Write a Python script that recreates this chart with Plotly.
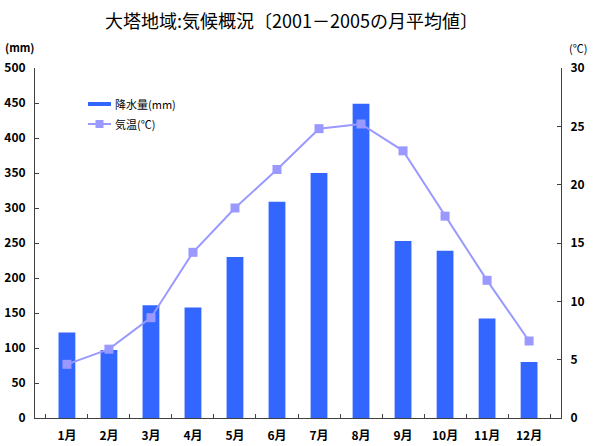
import plotly.graph_objects as go

months = ["1月", "2月", "3月", "4月", "5月", "6月", "7月", "8月", "9月", "10月", "11月", "12月"]
precip_mm = [122, 97, 161, 158, 230, 309, 350, 449, 253, 239, 142, 80]
temp_c = [4.6, 5.9, 8.6, 14.2, 18.0, 21.3, 24.8, 25.2, 22.9, 17.3, 11.8, 6.6]
left_ticks = [0, 50, 100, 150, 200, 250, 300, 350, 400, 450, 500]
right_ticks = [0, 5, 10, 15, 20, 25, 30]

BAR = "#3366FF"
LINE = "#9999FF"
FONT = "Noto Sans CJK JP, sans-serif"
W, H = 600, 446
L, R, T, B = 35, 39, 68, 28
PW, PH = W - L - R, H - T - B

fig = go.Figure()
fig.add_trace(go.Bar(x=months, y=precip_mm, name="降水量(mm)", marker=dict(color=BAR, line=dict(width=0)),
                     width=0.4, yaxis="y"))
fig.add_trace(go.Scatter(x=months, y=temp_c, name="気温(℃)", mode="lines+markers",
                         line=dict(color=LINE, width=2),
                         marker=dict(symbol="square", size=9, color=LINE), yaxis="y2"))

axis_font = dict(family=FONT, size=12, color="black", weight="bold")
fig.update_layout(
    width=W, height=H,
    margin=dict(l=L, r=R, t=T, b=B, autoexpand=False),
    paper_bgcolor="white", plot_bgcolor="white",
    showlegend=False,
    xaxis=dict(type="category", showline=True, linecolor="#404040", linewidth=1,
               ticks="inside", ticklen=4, tickcolor="#404040", tickson="boundaries",
               tickfont=axis_font, showgrid=False, ticklabelstandoff=7, automargin=False),
    yaxis=dict(range=[0, 500], tickvals=left_ticks, showline=True, linecolor="#404040", linewidth=1,
               ticks="inside", ticklen=4, tickcolor="#404040", tickfont=axis_font,
               showgrid=False, zeroline=False, ticklabelstandoff=6, automargin=False),
    yaxis2=dict(range=[0, 30], tickvals=right_ticks, overlaying="y", side="right",
                showline=True, linecolor="#404040", linewidth=1,
                ticks="inside", ticklen=4, tickcolor="#404040", tickfont=axis_font,
                showgrid=False, zeroline=False, ticklabelstandoff=6, automargin=False),
    bargap=0.6,
)

def px_x(p):
    return (p - L) / PW
def px_y(p):
    return (H - B - p) / PH

ann = []
ann.append(dict(text="大塔地域:気候概況〔2001－2005の月平均値〕", x=px_x(291), y=px_y(20),
                xref="paper", yref="paper", showarrow=False, xanchor="center", yanchor="middle",
                font=dict(family=FONT, size=18, color="black")))
ann.append(dict(text="(mm)", x=px_x(3), y=px_y(47), xref="paper", yref="paper", showarrow=False,
                xanchor="left", yanchor="middle", font=dict(family=FONT, size=11, color="black", weight="bold")))
ann.append(dict(text="(℃)", x=px_x(567), y=px_y(48), xref="paper", yref="paper", showarrow=False,
                xanchor="left", yanchor="middle", font=dict(family=FONT, size=11, color="black")))
ann.append(dict(text="降水量(mm)", x=px_x(113), y=px_y(104), xref="paper", yref="paper", showarrow=False,
                xanchor="left", yanchor="middle", font=dict(family=FONT, size=11, color="black")))
ann.append(dict(text="気温(℃)", x=px_x(113), y=px_y(124), xref="paper", yref="paper", showarrow=False,
                xanchor="left", yanchor="middle", font=dict(family=FONT, size=11, color="black")))

shapes = [
    dict(type="line", xref="paper", yref="paper", x0=px_x(88), x1=px_x(111), y0=px_y(104), y1=px_y(104),
         line=dict(color=BAR, width=4)),
    dict(type="line", xref="paper", yref="paper", x0=px_x(88), x1=px_x(111), y0=px_y(124), y1=px_y(124),
         line=dict(color=LINE, width=2)),
    dict(type="rect", xref="paper", yref="paper", x0=px_x(95.5), x1=px_x(103.5), y0=px_y(120), y1=px_y(128),
         line=dict(width=0), fillcolor=LINE),
]
fig.update_layout(annotations=ann, shapes=shapes)

fig.write_html("out.html")
